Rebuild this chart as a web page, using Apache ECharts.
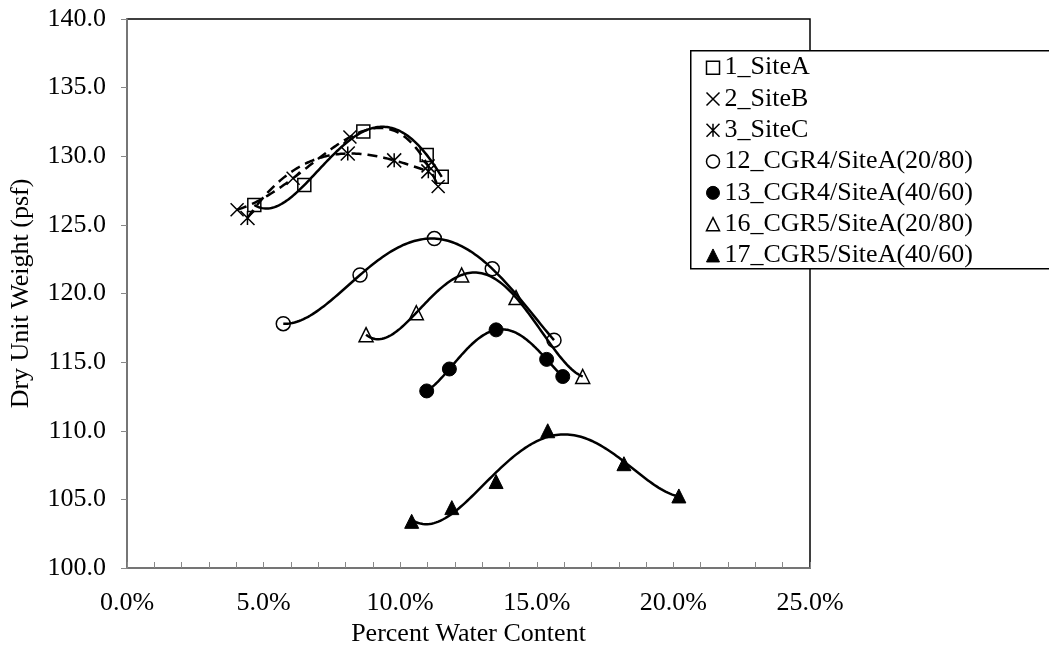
<!DOCTYPE html>
<html>
<head>
<meta charset="utf-8">
<title>Dry Unit Weight vs Water Content</title>
<script src="https://cdn.jsdelivr.net/npm/echarts@6/dist/echarts.min.js"></script>
<style>
  html, body { margin: 0; padding: 0; background: #fff; }
  #chart { width: 1049px; height: 645px; }
</style>
</head>
<body>
<div id="chart"></div>
<script>
// [water content %, dry unit weight psf]
const siteA = [[4.66, 126.45], [6.49, 127.9], [8.65, 131.8], [10.97, 130.1], [11.52, 128.5]]
const siteB = [[4.03, 126.1], [6.08, 128.4], [8.16, 131.4], [11.02, 129.3], [11.39, 127.8]]
const siteC = [[4.41, 125.5], [8.08, 130.2], [9.78, 129.7], [11.03, 128.9]]
const cgr4a20 = [[5.72, 117.8], [8.53, 121.35], [11.25, 124.0], [13.37, 121.8], [15.63, 116.6]]
const cgr4a40 = [[10.97, 112.9], [11.8, 114.5], [13.51, 117.35], [15.36, 115.2], [15.95, 113.95]]
const cgr5a20 = [[8.75, 117.0], [10.59, 118.6], [12.25, 121.35], [14.24, 119.7], [16.68, 113.95]]
const cgr5a40 = [[10.42, 103.4], [11.89, 104.4], [13.51, 106.3], [15.4, 110.0], [18.19, 107.6], [20.2, 105.25]]

const seriesNames = ['1_SiteA', '2_SiteB', '3_SiteC', '12_CGR4/SiteA(20/80)', '13_CGR4/SiteA(40/60)', '16_CGR5/SiteA(20/80)', '17_CGR5/SiteA(40/60)']
const xTicks = [0, 5, 10, 15, 20, 25]
const yTicks = [100, 105, 110, 115, 120, 125, 130, 135, 140]

const FONT = 'Liberation Serif'
const crossPath = 'path://M0,0L10,10M10,0L0,10'
const starPath = 'path://M0,0L10,10M10,0L0,10M5,0L5,10'
const open = { color: 'rgba(0,0,0,0)', borderColor: '#000', borderWidth: 1.5 }
const filled = { color: '#000', borderColor: '#000', borderWidth: 1 }
const stroked = { color: 'none', borderColor: '#000', borderWidth: 1.5 }

const looks = [
  { data: siteA, symbol: 'rect', size: 13, style: open, dash: null },
  { data: siteB, symbol: crossPath, size: 13, style: stroked, dash: [10, 6] },
  { data: siteC, symbol: starPath, size: 14, style: stroked, dash: [10, 6] },
  { data: cgr4a20, symbol: 'circle', size: 14, style: open, dash: null },
  { data: cgr4a40, symbol: 'circle', size: 14, style: filled, dash: null },
  { data: cgr5a20, symbol: 'triangle', size: 14, style: open, dash: null },
  { data: cgr5a40, symbol: 'triangle', size: 14, style: filled, dash: null }
]

// polynomial trendline (least squares), like the spreadsheet's trendline
function polyFit(pts, order) {
  const n = order + 1
  const mx = pts.reduce((s, p) => s + p[0], 0) / pts.length
  const A = []
  for (let r = 0; r < n; r++) {
    A.push(new Array(n + 1).fill(0))
    for (let c = 0; c < n; c++) {
      pts.forEach(p => { A[r][c] += Math.pow(p[0] - mx, r + c) })
    }
    pts.forEach(p => { A[r][n] += p[1] * Math.pow(p[0] - mx, r) })
  }
  for (let i = 0; i < n; i++) {
    let best = i
    for (let k = i + 1; k < n; k++) if (Math.abs(A[k][i]) > Math.abs(A[best][i])) best = k
    const tmp = A[i]; A[i] = A[best]; A[best] = tmp
    for (let k = 0; k < n; k++) {
      if (k === i) continue
      const f = A[k][i] / A[i][i]
      for (let c = i; c <= n; c++) A[k][c] -= f * A[i][c]
    }
  }
  const coef = A.map((row, i) => row[n] / row[i])
  return x => coef.reduce((s, c, i) => s + c * Math.pow(x - mx, i), 0)
}

const chart = echarts.init(document.getElementById('chart'))

const curveSeries = looks.map(look => ({
  type: 'custom',
  data: look.data,
  encode: { x: 0, y: 1 },
  silent: true,
  z: 2,
  renderItem: (params, api) => {
    if (params.dataIndex !== 0) return null
    const order = Math.min(4, look.data.length - 1)
    const f = polyFit(look.data, order)
    const x0 = look.data[0][0]
    const x1 = look.data[look.data.length - 1][0]
    const pts = []
    for (let k = 0; k <= 120; k++) {
      const x = x0 + (x1 - x0) * k / 120
      pts.push(api.coord([x, f(x)]))
    }
    return {
      type: 'polyline',
      shape: { points: pts },
      style: { fill: 'none', stroke: '#000', lineWidth: 2.5, lineDash: look.dash || null }
    }
  }
}))

const markerSeries = seriesNames.map((name, i) => ({
  name: name,
  type: 'line',
  data: looks[i].data,
  symbol: looks[i].symbol,
  symbolSize: looks[i].size,
  itemStyle: looks[i].style,
  lineStyle: { opacity: 0 },
  emphasis: { disabled: true },
  z: 3
}))

const option = {
  animation: false,
  textStyle: { fontFamily: FONT, color: '#000' },
  grid: {
    left: 127, right: 239, top: 19, bottom: 77,
    outerBoundsMode: 'none',
    show: true, borderColor: '#000', borderWidth: 1.5, backgroundColor: 'transparent'
  },
  graphic: [{
    type: 'rect', left: 690, top: 50, z: 3,
    shape: { width: 420, height: 218 },
    style: { fill: '#fff', stroke: '#000', lineWidth: 1.5 }
  }],
  legend: {
    orient: 'vertical',
    left: 704, top: 52, z: 4,
    padding: 0, itemGap: 0,
    itemWidth: 13, itemHeight: 13,
    textStyle: { fontFamily: FONT, fontSize: 26, color: '#000', lineHeight: 31.3 },
    selectedMode: false,
    data: seriesNames.map((name, i) => ({
      name: name,
      icon: looks[i].symbol,
      itemStyle: looks[i].style
    }))
  },
  xAxis: {
    type: 'value',
    min: xTicks[0], max: xTicks[xTicks.length - 1], interval: 5,
    name: 'Percent Water Content',
    nameLocation: 'middle', nameGap: 45,
    nameTextStyle: { fontFamily: FONT, fontSize: 26, color: '#000' },
    axisLine: { lineStyle: { color: '#888', width: 1.5 } },
    axisTick: { inside: true, length: 6, lineStyle: { color: '#888' } },
    minorTick: { show: true, splitNumber: 5, length: 6, lineStyle: { color: '#888' } },
    axisLabel: { fontFamily: FONT, fontSize: 26, color: '#000', margin: 22, formatter: v => v.toFixed(1) + '%' },
    splitLine: { show: false }
  },
  yAxis: {
    type: 'value',
    min: yTicks[0], max: yTicks[yTicks.length - 1], interval: 5,
    name: 'Dry Unit Weight (psf)',
    nameLocation: 'middle', nameGap: 93,
    nameTextStyle: { fontFamily: FONT, fontSize: 26, color: '#000' },
    axisLine: { show: true, lineStyle: { color: '#888', width: 1.5 } },
    axisTick: { show: true, length: 6, lineStyle: { color: '#888' } },
    axisLabel: { fontFamily: FONT, fontSize: 26, color: '#000', margin: 21, formatter: v => v.toFixed(1) },
    splitLine: { show: false }
  },
  series: curveSeries.concat(markerSeries)
}

chart.setOption(option)
window.addEventListener('resize', () => chart.resize())
</script>
</body>
</html>
